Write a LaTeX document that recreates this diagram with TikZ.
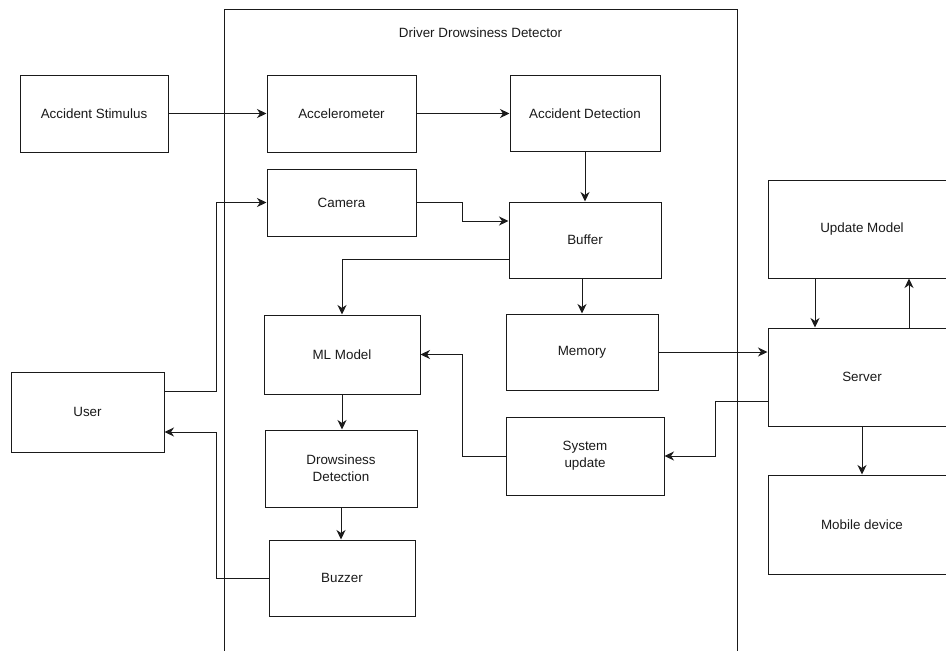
\documentclass[tikz,border=0pt]{standalone}
\usepackage{fontspec}
\setmainfont{Liberation Sans}
\usetikzlibrary{arrows.meta,calc}
\definecolor{ink}{HTML}{1A1A1A}
\begin{document}
\begin{tikzpicture}[x=1pt,y=-1pt,
  blk/.style={draw=ink,line width=1pt,fill=white,inner sep=0pt,align=center,
    text=ink,font=\fontsize{13.4}{16.7}\selectfont},
  arr/.style={draw=ink,line width=1pt,-{Stealth[length=9.5pt,width=9pt,inset=3pt]}}]
\useasboundingbox (0,0) rectangle (946,651);
\clip (0,0) rectangle (946,651);
\fill[white] (0,0) rectangle (946,651);
% outer container
\node[draw=ink,line width=1pt,inner sep=0pt,minimum width=513pt,minimum height=700pt,anchor=north west] (sys) at (224,9) {};
\node[text=ink,font=\fontsize{13.4}{16.7}\selectfont] (title) at (480.5,33) {Driver Drowsiness Detector};
% blocks
\node[blk,minimum width=148pt,minimum height=77pt] (stim) at (94,113.5) {Accident Stimulus};
\node[blk,minimum width=149pt,minimum height=77pt] (acc) at (341.5,113.5) {Accelerometer};
\node[blk,minimum width=150pt,minimum height=76pt] (accdet) at (585,113.5) {Accident Detection};
\node[blk,minimum width=149pt,minimum height=67pt] (cam) at (341.5,202.5) {Camera};
\node[blk,minimum width=152pt,minimum height=76pt] (buf) at (585,240) {Buffer};
\node[blk,minimum width=156pt,minimum height=79pt] (ml) at (342,354.5) {ML Model};
\node[blk,minimum width=152pt,minimum height=76pt] (mem) at (582,352) {Memory};
\node[blk,minimum width=158pt,minimum height=78pt] (sysup) at (585,456) {System\\update};
\node[blk,minimum width=152pt,minimum height=77pt] (dd) at (341,468.5) {Drowsiness\\Detection};
\node[blk,minimum width=146pt,minimum height=76pt] (buz) at (342,578) {Buzzer};
\node[blk,minimum width=153pt,minimum height=80pt] (user) at (87.5,412) {User};
\node[blk,minimum width=188pt,minimum height=98pt] (upd) at (862,229) {Update Model};
\node[blk,minimum width=188pt,minimum height=98pt] (srv) at (862,377) {Server};
\node[blk,minimum width=188pt,minimum height=99pt] (mob) at (862,524.5) {Mobile device};
% connectors
\draw[arr] (stim.east) -- (acc.west);
\draw[arr] (acc.east) -- (accdet.west);
\draw[arr] (accdet.south) -- (buf.north);
\draw[arr] (cam.east) -- ++(46,0) |- ($(buf.west)+(0,-19)$);
\draw[arr] ($(buf.west)+(0,19)$) -| (ml.north);
\draw[arr] (mem.north |- buf.south) -- (mem.north);
\draw[arr] (mem.east) -- (mem.east -| srv.west);
\draw[arr] ($(upd.south)+(-47,0)$) -- ($(srv.north)+(-47,0)$);
\draw[arr] ($(srv.north)+(47,0)$) -- ($(upd.south)+(47,0)$);
\draw[arr] (srv.south) -- (mob.north);
\draw[arr] ($(srv.west)+(0,24)$) -- ++(-52,0) |- (sysup.east);
\draw[arr] (sysup.west) -- ++(-43,0) |- (ml.east);
\draw[arr] (ml.south) -- (ml.south |- dd.north);
\draw[arr] (dd.south) -- (dd.south |- buz.north);
\draw[arr] (buz.west) -- ++(-52,0) |- ($(user.east)+(0,20)$);
\draw[arr] ($(user.east)+(0,-21)$) -- ++(52,0) |- (cam.west);
\end{tikzpicture}
\end{document}
